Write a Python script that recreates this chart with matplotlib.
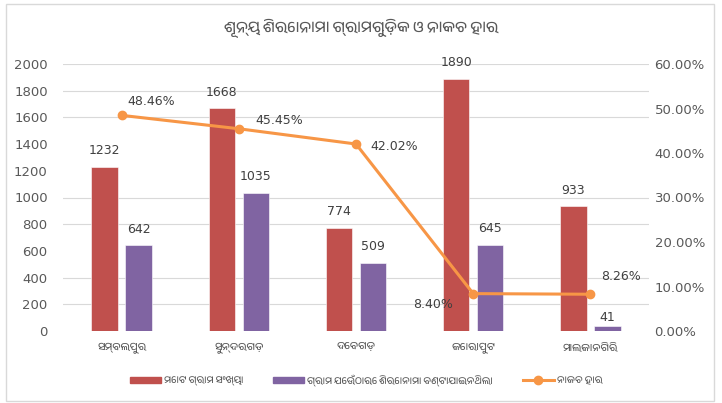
import matplotlib
matplotlib.use('Agg')
import matplotlib.pyplot as plt
from matplotlib import font_manager
from matplotlib.lines import Line2D
from matplotlib.patches import Patch
import numpy as np

title = 'ଶୂନ୍ୟ ଶିରୋନାମା ଗ୍ରାମଗୁଡ଼ିକ ଓ ନାକଚ ହାର'
districts = ['ସମ୍ବଲପୁର', 'ସୁନ୍ଦରଗଡ଼', 'ଦେବଗଡ଼', 'କୋରାପୁଟ', 'ମାଲକାନଗିରି']
total_villages = [1232, 1668, 774, 1890, 933]
villages_no_title = [642, 1035, 509, 645, 41]
rejection_rate = [0.4846, 0.4545, 0.4202, 0.0840, 0.0826]
series_names = ['ମୋଟ ଗ୍ରାମ ସଂଖ୍ୟା',
                'ଗ୍ରାମ ଯେଉଁଠାରେ ଶିରୋନାମା ବଣ୍ଟାଯାଇନଥିଲା',
                'ନାକଚ ହାର']

RED = '#C0504D'
PURPLE = '#8064A2'
ORANGE = '#F79646'
GRID = '#D9D9D9'
TICK = '#595959'
LABEL = '#404040'

# pick an Odia font if one is installed, else fall back
odia = [f.name for f in font_manager.fontManager.ttflist
        if 'oriya' in f.name.lower() or 'odia' in f.name.lower()]
text_fonts = odia[:1] + ['Noto Sans', 'DejaVu Sans']
plt.rcParams['font.family'] = ['DejaVu Sans']

fig = plt.figure(figsize=(7.22, 4.03), dpi=100)
fig.patches.append(plt.Rectangle((6 / 722, 2 / 403), 708 / 722, 397 / 403,
                                 transform=fig.transFigure, fill=False,
                                 edgecolor='#D9D9D9', lw=1))
ax = fig.add_axes([63 / 722, 72 / 403, 586 / 722, 267 / 403])
ax2 = ax.twinx()

x = np.arange(len(districts))
width = 0.225
offset = 0.145
b1 = ax.bar(x - offset, total_villages, width, color=RED,
            edgecolor='white', linewidth=0.4, zorder=2)
b2 = ax.bar(x + offset, villages_no_title, width, color=PURPLE,
            edgecolor='white', linewidth=0.4, zorder=2)
ax.bar_label(b1, padding=7, fontsize=9, color=LABEL)
labels2 = ax.bar_label(b2, padding=7, fontsize=9, color=LABEL)
# the small Malkangiri label sits right on its bar in the original
labels2[-1].xyann = (0, 1)

ax.set_xlim(-0.5, len(districts) - 0.5)
ax.set_ylim(0, 2000)
ax.set_yticks(np.arange(0, 2001, 200))
# faint gridlines (some vanish in the reference's rendering)
for v in [200, 400, 800, 1000, 1600, 1800, 2000]:
    ax.axhline(v, color=GRID, lw=0.8, zorder=0)

ax.set_xticks(x)
ax.set_xticklabels(districts, family=text_fonts, fontsize=7.5, color=TICK)
ax.tick_params(axis='x', length=0, pad=8)
ax.tick_params(axis='y', length=0, pad=11, labelsize=9.5, labelcolor=TICK)
for s in ax.spines.values():
    s.set_visible(False)

ax2.plot(x, rejection_rate, color=ORANGE, lw=2.2, marker='o', ms=6, zorder=3)
ax2.set_ylim(0, 0.6)
ax2.set_yticks(np.arange(0, 0.61, 0.1))
ax2.set_yticklabels([f'{v * 100:.2f}%' for v in np.arange(0, 0.61, 0.1)])
ax2.tick_params(axis='y', length=0, pad=4, labelsize=9.5, labelcolor=TICK)
for s in ax2.spines.values():
    s.set_visible(False)

label_offsets = [(4, 10), (12, 6), (10, -2), (-43, -8), (8, 13)]
for xi, r, (dx, dy) in zip(x, rejection_rate, label_offsets):
    ax2.annotate(f'{r * 100:.2f}%', (xi, r), xytext=(dx, dy),
                 textcoords='offset points', fontsize=9, color=LABEL,
                 ha='left', va='center')

fig.text(0.5, 1 - 28 / 403, title, family=text_fonts, fontsize=11,
         color=TICK, ha='center', va='center')

handles = [Patch(color=RED), Patch(color=PURPLE),
           Line2D([], [], color=ORANGE, lw=2.2, marker='o', ms=6)]
fig.legend(handles, series_names, loc='center', ncol=3,
           bbox_to_anchor=(366 / 722, 23 / 403), frameon=False,
           prop={'family': text_fonts, 'size': 7}, labelcolor=TICK,
           handlelength=3.2, columnspacing=3.1, handletextpad=0.3)

fig.savefig('out.png', dpi=100)
